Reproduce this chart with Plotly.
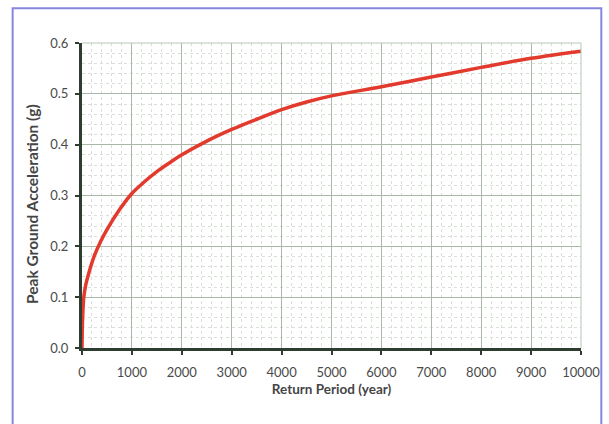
import plotly.graph_objects as go

return_period = [0, 5, 15, 36, 75, 144, 250, 376, 500, 750, 1000, 1250, 1500, 1750,
                 2000, 2500, 3000, 3500, 4000, 4500, 5000, 6000, 7000, 8000, 9000, 10000]
pga = [0.0, 0.035, 0.065, 0.100, 0.124, 0.150, 0.182, 0.210, 0.233, 0.272, 0.304,
       0.327, 0.347, 0.364, 0.380, 0.407, 0.430, 0.450, 0.469, 0.484, 0.496, 0.514,
       0.533, 0.552, 0.570, 0.584]

x_ticks = [0, 1000, 2000, 3000, 4000, 5000, 6000, 7000, 8000, 9000, 10000]
y_ticks = [0.0, 0.1, 0.2, 0.3, 0.4, 0.5, 0.6]
y_tick_labels = ["0.0", "0.1", "0.2", "0.3", "0.4", "0.5", "0.6"]

x_title = "Return Period (year)"
y_title = "Peak Ground Acceleration (g)"

fig = go.Figure()
fig.add_trace(go.Scatter(
    x=return_period, y=pga, mode="lines",
    line=dict(color="#e23a2c", width=3.5, shape="spline", smoothing=1.0),
    showlegend=False, hoverinfo="skip"))

font_family = "Lato, 'Open Sans', sans-serif"
tick_font = dict(family=font_family, size=13, color="#4a4a4a")
xtitle_font = dict(family=font_family, size=13.5, color="#454545")
ytitle_font = dict(family=font_family, size=15.5, color="#454545")

fig.update_layout(
    width=609, height=424,
    margin=dict(l=81.5, r=28.3, t=42.7, b=76.3),
    paper_bgcolor="white", plot_bgcolor="white",
    xaxis=dict(
        range=[0, 10000], tickvals=x_ticks, ticktext=[str(v) for v in x_ticks],
        tickfont=tick_font, showgrid=True, gridcolor="#a9b8a9", gridwidth=1,
        minor=dict(dtick=200, showgrid=True, gridcolor="#d8e0d8", griddash="dot", gridwidth=1),
        showline=True, linecolor="#2f3d30", linewidth=3,
        ticks="outside", ticklen=4, tickwidth=2, tickcolor="#2f3d30",
        ticklabelstandoff=6,
        zeroline=False, fixedrange=True, automargin=False,
        title=dict(text="<b>" + x_title + "</b>", font=xtitle_font, standoff=6),
    ),
    yaxis=dict(
        range=[0, 0.6], tickvals=y_ticks, ticktext=y_tick_labels,
        tickfont=tick_font, showgrid=True, gridcolor="#a9b8a9", gridwidth=1,
        minor=dict(dtick=0.02, showgrid=True, gridcolor="#d8e0d8", griddash="dot", gridwidth=1),
        showline=True, linecolor="#2f3d30", linewidth=3,
        ticks="outside", ticklen=4, tickwidth=2, tickcolor="#2f3d30",
        ticklabelstandoff=4,
        zeroline=False, fixedrange=True, automargin=False,
    ),
    annotations=[
        dict(text="<b>" + y_title + "</b>", font=ytitle_font, textangle=-90,
             xref="paper", yref="paper", x=-0.099, y=0.471,
             xanchor="center", yanchor="middle", showarrow=False),
    ],
    shapes=[
        dict(type="line", xref="paper", yref="paper", x0=0, x1=1, y0=1, y1=1,
             line=dict(color="#b4c8b4", width=1)),
        dict(type="line", xref="paper", yref="paper", x0=1, x1=1, y0=0, y1=1,
             line=dict(color="#b4c8b4", width=1)),
        dict(type="rect", xref="paper", yref="paper",
             x0=-0.139, x1=1.0407, y0=-0.3, y1=1.1138,
             line=dict(color="#8686e0", width=2), fillcolor="rgba(0,0,0,0)", layer="below"),
    ],
)

fig.write_html("out.html", config={"displayModeBar": False},
               post_script="document.body.style.margin='0';")
